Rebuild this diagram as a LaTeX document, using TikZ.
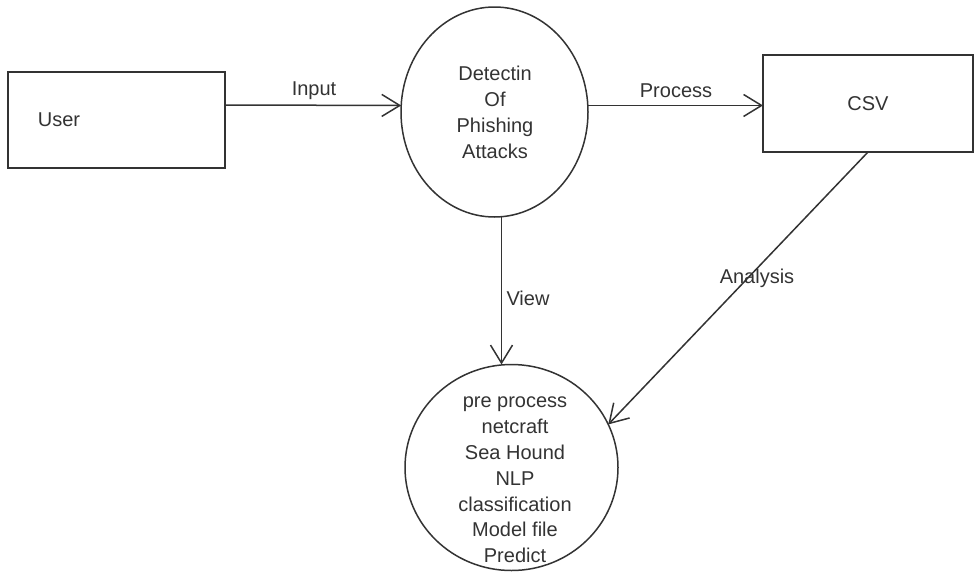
\documentclass[tikz,border=0pt]{standalone}
\usepackage{fontspec}
\setmainfont{Liberation Sans}
\usetikzlibrary{arrows.meta,shapes.geometric}
\definecolor{ink}{HTML}{333333}
\begin{document}
\begin{tikzpicture}[x=1pt,y=-1pt,
  every node/.style={text=ink,font=\fontsize{20}{25.8}\selectfont},
  entity/.style={draw=ink,line width=1.5pt,rectangle,inner sep=0pt,outer sep=0pt},
  process/.style={draw=ink,line width=1.5pt,ellipse,inner sep=0pt,outer sep=0pt},
  flow/.style={draw=ink,line width=1.5pt,-{Straight Barb[length=18pt,width=22pt,line width=1.5pt]}},
  lbl/.style={inner sep=1pt}]
\useasboundingbox (0,0) rectangle (974,576);

% external entities
\node[entity,minimum width=217pt,minimum height=96pt] (user) at (116.5,120) {};
\node[lbl] (usertext) at (59,120) {User};
\node[entity,minimum width=210pt,minimum height=97pt] (csv) at (868,103.5) {CSV};

% processes
\node[process,minimum width=187pt,minimum height=210pt] (detect) at (494.5,112) {};
\node[lbl,align=center] (detecttext) at (495,112.5) {Detectin\\Of\\Phishing\\Attacks};
\node[process,minimum width=213pt,minimum height=206pt] (proc) at (511.5,467.5) {};
\node[lbl,align=center] (proctext) at (515,480) {pre process\\netcraft\\Sea Hound\\NLP\\classification\\Model file\\Predict};

% data flows
\draw[flow] ([yshift=15pt]user.east) -- (detect.176);
\draw[flow] (detect.4) -- (detect.4 -| csv.west);
\draw[flow] ([xshift=7pt]detect.south) -- ([xshift=7pt]detect.south |- proc.north);
\draw[flow] (csv.south) -- (proc.24);

% flow labels
\node[lbl] (inputlbl) at (314,91) {Input};
\node[lbl] (processlbl) at (676,91) {Process};
\node[lbl] (viewlbl) at (528,298) {View};
\node[lbl] (analysislbl) at (757,278) {Analysis};
\end{tikzpicture}
\end{document}
